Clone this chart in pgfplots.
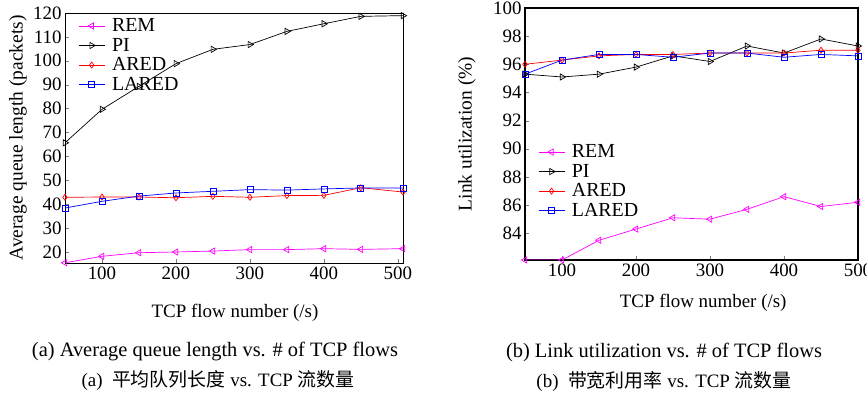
\documentclass[border=0pt]{standalone}
\usepackage{pgfplots}
\pgfplotsset{compat=1.18}
\usepackage{fontspec}
\setmainfont{Liberation Serif}
\newfontfamily\cjk{Noto Sans CJK SC}
\definecolor{remc}{RGB}{255,0,255}
\definecolor{piC}{RGB}{0,0,0}
\definecolor{aredc}{RGB}{255,0,0}
\definecolor{laredc}{RGB}{0,0,255}
\newcommand{\fs}[1]{\fontsize{#1}{#1}\selectfont}
\pgfplotsset{
  common/.style={
    anchor=south west, scale only axis,
    tick align=inside, xtick pos=bottom, ytick pos=left,
    major tick length=4bp,
    /pgf/number format/assume math mode=true,
    tick label style={font=\fs{19}},
    axis line style={line width=0.9bp},
    every axis plot/.append style={line width=0.7bp},
    legend cell align=left,
    legend style={draw=none, fill=none, font=\fs{20}, anchor=north west, row sep=3bp,
      column sep=6bp, nodes={inner sep=1bp}},
    legend image code/.code={\draw[mark repeat=2,mark phase=2] plot coordinates {(0bp,0bp) (13bp,0bp) (26bp,0bp)};},
  },
  remS/.style={color=remc, mark=triangle, mark size=3.6bp, mark options={rotate=90, solid}},
  piS/.style={color=piC, mark=triangle, mark size=3.6bp, mark options={rotate=-90, solid}},
  aredS/.style={color=aredc, mark=diamond, mark size=3bp},
  laredS/.style={color=laredc, mark=square, mark size=3bp},
}
\begin{document}
\begin{tikzpicture}
\useasboundingbox (0,0) rectangle (867bp,395bp);
\begin{axis}[common,
  at={(65bp,132bp)}, width=338bp, height=250bp,
  xmin=50, xmax=507, ymin=15.4, ymax=120,
  xtick={100,200,300,400,500}, ytick={20,30,...,120},
  xlabel={TCP flow number (/s)},
  ylabel={Average queue length (packets)},
  every axis x label/.style={at={(axis description cs:0.503,-0.2)}, anchor=center, font=\fs{19}},
  every axis y label/.style={at={(axis description cs:-0.139,0.5)}, rotate=90, anchor=center, font=\fs{19.5}},
  legend style={at={(axis description cs:0.03,0.99)}},
]
\addplot[remS] coordinates {(50,15.5) (100,18.2) (150,19.7) (200,20.0) (250,20.4) (300,21.0) (350,21.0) (400,21.4) (450,21.1) (507,21.4)};
\addlegendentry{REM}
\addplot[piS] coordinates {(50,65.7) (100,79.7) (150,89.3) (200,98.8) (250,104.8) (300,106.8) (350,112.3) (400,115.5) (450,118.6) (507,118.9)};
\addlegendentry{PI}
\addplot[aredS] coordinates {(50,42.9) (100,43.0) (150,43.0) (200,42.7) (250,43.3) (300,42.9) (350,43.6) (400,43.7) (450,46.9) (507,45.1)};
\addlegendentry{ARED}
\addplot[laredS] coordinates {(50,38.4) (100,41.2) (150,43.4) (200,44.7) (250,45.4) (300,46.1) (350,45.9) (400,46.4) (450,46.8) (507,46.8)};
\addlegendentry{LARED}
\end{axis}
\begin{axis}[common,
  at={(525bp,135bp)}, width=333bp, height=252bp,
  axis line style={line width=1.5bp},
  xmin=50, xmax=500, ymin=82.1, ymax=100,
  xtick={100,200,300,400,500}, ytick={84,86,...,100},
  xlabel={TCP flow number (/s)},
  ylabel={Link utilization (\%)},
  every axis x label/.style={at={(axis description cs:0.535,-0.17)}, anchor=center, font=\fs{19}},
  every axis y label/.style={at={(axis description cs:-0.174,0.5)}, rotate=90, anchor=center, font=\fs{19.5}},
  legend style={at={(axis description cs:0.03,0.47)}},
]
\addplot[remS] coordinates {(50,82.1) (100,82.1) (150,83.5) (200,84.3) (250,85.1) (300,85.0) (350,85.7) (400,86.6) (450,85.9) (500,86.2)};
\addlegendentry{REM}
\addplot[piS] coordinates {(50,95.3) (100,95.1) (150,95.3) (200,95.8) (250,96.6) (300,96.2) (350,97.3) (400,96.8) (450,97.8) (500,97.3)};
\addlegendentry{PI}
\addplot[aredS] coordinates {(50,96.0) (100,96.3) (150,96.6) (200,96.7) (250,96.7) (300,96.8) (350,96.8) (400,96.8) (450,97.0) (500,97.0)};
\addlegendentry{ARED}
\addplot[laredS] coordinates {(50,95.3) (100,96.3) (150,96.7) (200,96.7) (250,96.5) (300,96.8) (350,96.8) (400,96.5) (450,96.7) (500,96.6)};
\addlegendentry{LARED}
\end{axis}
\node[font=\fs{20.5}] at (215bp,43bp) {(a) Average queue length vs. \# of TCP flows};
\node[font=\fs{19}] at (218bp,14bp) {(a)\ \ {\cjk 平均队列长度} vs. TCP {\cjk 流数量}};
\node[font=\fs{20.5}] at (664bp,43bp) {(b) Link utilization vs. \# of TCP flows};
\node[font=\fs{19}] at (664bp,14bp) {(b)\ \ {\cjk 带宽利用率} vs. TCP {\cjk 流数量}};
\end{tikzpicture}
\end{document}
